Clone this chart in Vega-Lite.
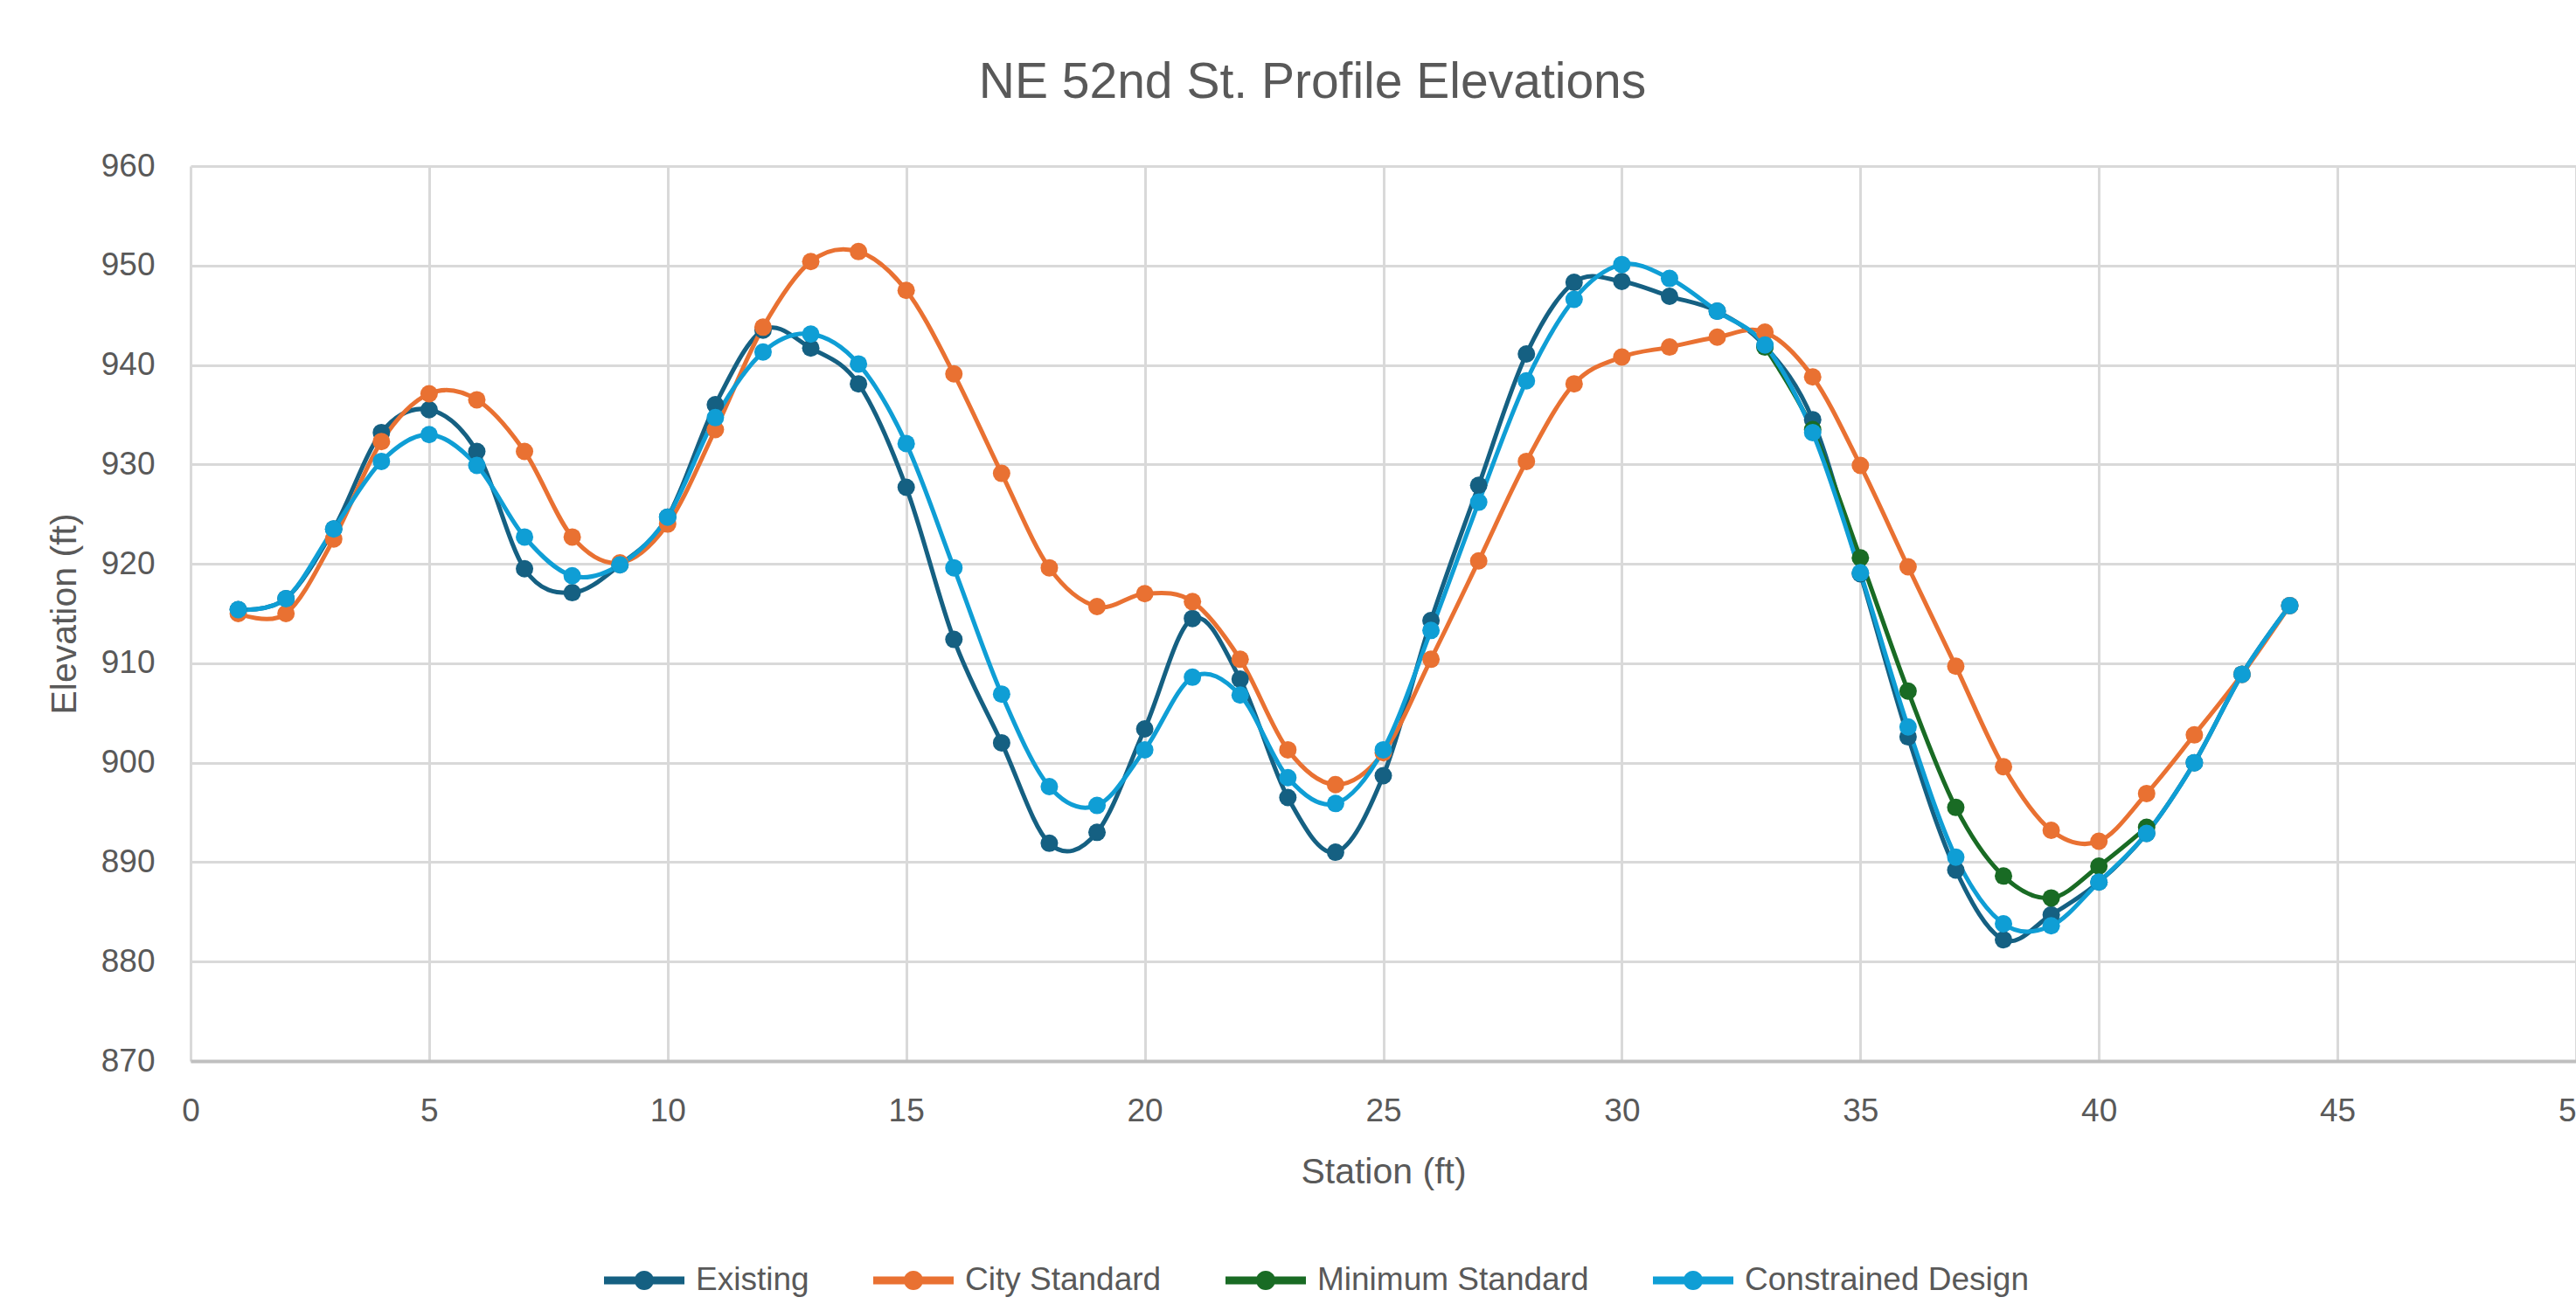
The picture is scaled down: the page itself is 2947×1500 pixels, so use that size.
{
  "$schema": "https://vega.github.io/schema/vega-lite/v6.json",
  "width": 2729,
  "height": 1024,
  "autosize": {"type": "none"},
  "padding": {"left": 218, "top": 190, "right": 0, "bottom": 286},
  "background": "white",
  "config": {
    "view": {"stroke": null},
    "font": "Liberation Sans"
  },
  "title": {
    "text": "NE 52nd St. Profile Elevations",
    "fontSize": 57,
    "font": "Liberation Sans",
    "fontWeight": "normal",
    "color": "#595959",
    "anchor": "middle",
    "frame": "group",
    "baseline": "alphabetic",
    "offset": 2,
    "dx": -81
  },
  "data": {
    "values": [
      {"Series": "Existing", "Station": 1, "Elevation": 915.4},
      {"Series": "Existing", "Station": 2, "Elevation": 916.5},
      {"Series": "Existing", "Station": 3, "Elevation": 923.5},
      {"Series": "Existing", "Station": 4, "Elevation": 933.2},
      {"Series": "Existing", "Station": 5, "Elevation": 935.5},
      {"Series": "Existing", "Station": 6, "Elevation": 931.3},
      {"Series": "Existing", "Station": 7, "Elevation": 919.5},
      {"Series": "Existing", "Station": 8, "Elevation": 917.1},
      {"Series": "Existing", "Station": 9, "Elevation": 919.9},
      {"Series": "Existing", "Station": 10, "Elevation": 924.7},
      {"Series": "Existing", "Station": 11, "Elevation": 936.0},
      {"Series": "Existing", "Station": 12, "Elevation": 943.5},
      {"Series": "Existing", "Station": 13, "Elevation": 941.7},
      {"Series": "Existing", "Station": 14, "Elevation": 938.1},
      {"Series": "Existing", "Station": 15, "Elevation": 927.7},
      {"Series": "Existing", "Station": 16, "Elevation": 912.4},
      {"Series": "Existing", "Station": 17, "Elevation": 902.0},
      {"Series": "Existing", "Station": 18, "Elevation": 891.9},
      {"Series": "Existing", "Station": 19, "Elevation": 893.0},
      {"Series": "Existing", "Station": 20, "Elevation": 903.4},
      {"Series": "Existing", "Station": 21, "Elevation": 914.5},
      {"Series": "Existing", "Station": 22, "Elevation": 908.4},
      {"Series": "Existing", "Station": 23, "Elevation": 896.5},
      {"Series": "Existing", "Station": 24, "Elevation": 891.0},
      {"Series": "Existing", "Station": 25, "Elevation": 898.7},
      {"Series": "Existing", "Station": 26, "Elevation": 914.3},
      {"Series": "Existing", "Station": 27, "Elevation": 927.9},
      {"Series": "Existing", "Station": 28, "Elevation": 941.1},
      {"Series": "Existing", "Station": 29, "Elevation": 948.3},
      {"Series": "Existing", "Station": 30, "Elevation": 948.4},
      {"Series": "Existing", "Station": 31, "Elevation": 946.9},
      {"Series": "Existing", "Station": 32, "Elevation": 945.4},
      {"Series": "Existing", "Station": 33, "Elevation": 941.9},
      {"Series": "Existing", "Station": 34, "Elevation": 934.5},
      {"Series": "Existing", "Station": 35, "Elevation": 919.0},
      {"Series": "Existing", "Station": 36, "Elevation": 902.6},
      {"Series": "Existing", "Station": 37, "Elevation": 889.2},
      {"Series": "Existing", "Station": 38, "Elevation": 882.2},
      {"Series": "Existing", "Station": 39, "Elevation": 884.7},
      {"Series": "Existing", "Station": 40, "Elevation": 888.0},
      {"Series": "Existing", "Station": 41, "Elevation": 892.9},
      {"Series": "Existing", "Station": 42, "Elevation": 900.0},
      {"Series": "Existing", "Station": 43, "Elevation": 908.9},
      {"Series": "Existing", "Station": 44, "Elevation": 915.8},
      {"Series": "City Standard", "Station": 1, "Elevation": 915.0},
      {"Series": "City Standard", "Station": 2, "Elevation": 915.0},
      {"Series": "City Standard", "Station": 3, "Elevation": 922.5},
      {"Series": "City Standard", "Station": 4, "Elevation": 932.3},
      {"Series": "City Standard", "Station": 5, "Elevation": 937.1},
      {"Series": "City Standard", "Station": 6, "Elevation": 936.5},
      {"Series": "City Standard", "Station": 7, "Elevation": 931.3},
      {"Series": "City Standard", "Station": 8, "Elevation": 922.7},
      {"Series": "City Standard", "Station": 9, "Elevation": 920.1},
      {"Series": "City Standard", "Station": 10, "Elevation": 924.0},
      {"Series": "City Standard", "Station": 11, "Elevation": 933.5},
      {"Series": "City Standard", "Station": 12, "Elevation": 943.8},
      {"Series": "City Standard", "Station": 13, "Elevation": 950.4},
      {"Series": "City Standard", "Station": 14, "Elevation": 951.4},
      {"Series": "City Standard", "Station": 15, "Elevation": 947.5},
      {"Series": "City Standard", "Station": 16, "Elevation": 939.1},
      {"Series": "City Standard", "Station": 17, "Elevation": 929.1},
      {"Series": "City Standard", "Station": 18, "Elevation": 919.6},
      {"Series": "City Standard", "Station": 19, "Elevation": 915.7},
      {"Series": "City Standard", "Station": 20, "Elevation": 917.0},
      {"Series": "City Standard", "Station": 21, "Elevation": 916.2},
      {"Series": "City Standard", "Station": 22, "Elevation": 910.4},
      {"Series": "City Standard", "Station": 23, "Elevation": 901.3},
      {"Series": "City Standard", "Station": 24, "Elevation": 897.8},
      {"Series": "City Standard", "Station": 25, "Elevation": 901.0},
      {"Series": "City Standard", "Station": 26, "Elevation": 910.4},
      {"Series": "City Standard", "Station": 27, "Elevation": 920.3},
      {"Series": "City Standard", "Station": 28, "Elevation": 930.3},
      {"Series": "City Standard", "Station": 29, "Elevation": 938.1},
      {"Series": "City Standard", "Station": 30, "Elevation": 940.8},
      {"Series": "City Standard", "Station": 31, "Elevation": 941.8},
      {"Series": "City Standard", "Station": 32, "Elevation": 942.8},
      {"Series": "City Standard", "Station": 33, "Elevation": 943.3},
      {"Series": "City Standard", "Station": 34, "Elevation": 938.8},
      {"Series": "City Standard", "Station": 35, "Elevation": 929.9},
      {"Series": "City Standard", "Station": 36, "Elevation": 919.7},
      {"Series": "City Standard", "Station": 37, "Elevation": 909.7},
      {"Series": "City Standard", "Station": 38, "Elevation": 899.6},
      {"Series": "City Standard", "Station": 39, "Elevation": 893.2},
      {"Series": "City Standard", "Station": 40, "Elevation": 892.1},
      {"Series": "City Standard", "Station": 41, "Elevation": 896.9},
      {"Series": "City Standard", "Station": 42, "Elevation": 902.8},
      {"Series": "City Standard", "Station": 43, "Elevation": 908.9},
      {"Series": "City Standard", "Station": 44, "Elevation": 915.8},
      {"Series": "Minimum Standard", "Station": 33, "Elevation": 941.8},
      {"Series": "Minimum Standard", "Station": 34, "Elevation": 933.5},
      {"Series": "Minimum Standard", "Station": 35, "Elevation": 920.6},
      {"Series": "Minimum Standard", "Station": 36, "Elevation": 907.2},
      {"Series": "Minimum Standard", "Station": 37, "Elevation": 895.5},
      {"Series": "Minimum Standard", "Station": 38, "Elevation": 888.6},
      {"Series": "Minimum Standard", "Station": 39, "Elevation": 886.4},
      {"Series": "Minimum Standard", "Station": 40, "Elevation": 889.6},
      {"Series": "Minimum Standard", "Station": 41, "Elevation": 893.5},
      {"Series": "Constrained Design", "Station": 1, "Elevation": 915.4},
      {"Series": "Constrained Design", "Station": 2, "Elevation": 916.5},
      {"Series": "Constrained Design", "Station": 3, "Elevation": 923.5},
      {"Series": "Constrained Design", "Station": 4, "Elevation": 930.3},
      {"Series": "Constrained Design", "Station": 5, "Elevation": 933.0},
      {"Series": "Constrained Design", "Station": 6, "Elevation": 929.9},
      {"Series": "Constrained Design", "Station": 7, "Elevation": 922.7},
      {"Series": "Constrained Design", "Station": 8, "Elevation": 918.8},
      {"Series": "Constrained Design", "Station": 9, "Elevation": 919.9},
      {"Series": "Constrained Design", "Station": 10, "Elevation": 924.7},
      {"Series": "Constrained Design", "Station": 11, "Elevation": 934.7},
      {"Series": "Constrained Design", "Station": 12, "Elevation": 941.3},
      {"Series": "Constrained Design", "Station": 13, "Elevation": 943.1},
      {"Series": "Constrained Design", "Station": 14, "Elevation": 940.1},
      {"Series": "Constrained Design", "Station": 15, "Elevation": 932.1},
      {"Series": "Constrained Design", "Station": 16, "Elevation": 919.6},
      {"Series": "Constrained Design", "Station": 17, "Elevation": 906.9},
      {"Series": "Constrained Design", "Station": 18, "Elevation": 897.6},
      {"Series": "Constrained Design", "Station": 19, "Elevation": 895.7},
      {"Series": "Constrained Design", "Station": 20, "Elevation": 901.3},
      {"Series": "Constrained Design", "Station": 21, "Elevation": 908.6},
      {"Series": "Constrained Design", "Station": 22, "Elevation": 906.8},
      {"Series": "Constrained Design", "Station": 23, "Elevation": 898.5},
      {"Series": "Constrained Design", "Station": 24, "Elevation": 895.9},
      {"Series": "Constrained Design", "Station": 25, "Elevation": 901.3},
      {"Series": "Constrained Design", "Station": 26, "Elevation": 913.3},
      {"Series": "Constrained Design", "Station": 27, "Elevation": 926.2},
      {"Series": "Constrained Design", "Station": 28, "Elevation": 938.4},
      {"Series": "Constrained Design", "Station": 29, "Elevation": 946.6},
      {"Series": "Constrained Design", "Station": 30, "Elevation": 950.1},
      {"Series": "Constrained Design", "Station": 31, "Elevation": 948.7},
      {"Series": "Constrained Design", "Station": 32, "Elevation": 945.4},
      {"Series": "Constrained Design", "Station": 33, "Elevation": 942.0},
      {"Series": "Constrained Design", "Station": 34, "Elevation": 933.2},
      {"Series": "Constrained Design", "Station": 35, "Elevation": 919.1},
      {"Series": "Constrained Design", "Station": 36, "Elevation": 903.6},
      {"Series": "Constrained Design", "Station": 37, "Elevation": 890.5},
      {"Series": "Constrained Design", "Station": 38, "Elevation": 883.8},
      {"Series": "Constrained Design", "Station": 39, "Elevation": 883.6},
      {"Series": "Constrained Design", "Station": 40, "Elevation": 888.0},
      {"Series": "Constrained Design", "Station": 41, "Elevation": 892.9},
      {"Series": "Constrained Design", "Station": 42, "Elevation": 900.0},
      {"Series": "Constrained Design", "Station": 43, "Elevation": 908.9},
      {"Series": "Constrained Design", "Station": 44, "Elevation": 915.8}
    ]
  },
  "mark": {
    "type": "line",
    "interpolate": "cardinal",
    "strokeWidth": 5,
    "point": {"filled": true, "size": 400, "shape": "circle", "opacity": 1}
  },
  "encoding": {
    "x": {
      "field": "Station",
      "type": "quantitative",
      "scale": {"domain": [0, 50], "nice": false, "zero": false},
      "axis": {
        "title": "Station (ft)",
        "values": [0, 5, 10, 15, 20, 25, 30, 35, 40, 45, 50],
        "ticks": false,
        "grid": true,
        "gridColor": "#D9D9D9",
        "gridWidth": 3,
        "domain": true,
        "domainColor": "#BFBFBF",
        "domainWidth": 4,
        "labelFont": "Liberation Sans",
        "labelFontSize": 37,
        "labelColor": "#595959",
        "labelBaseline": "alphabetic",
        "labelPadding": 68,
        "labelFlush": false,
        "labelOverlap": false,
        "titleFont": "Liberation Sans",
        "titleFontSize": 41,
        "titleFontWeight": "normal",
        "titleColor": "#595959",
        "titleBaseline": "alphabetic",
        "titleY": 139
      }
    },
    "y": {
      "field": "Elevation",
      "type": "quantitative",
      "scale": {"domain": [870, 960], "nice": false, "zero": false},
      "axis": {
        "title": "Elevation (ft)",
        "values": [870, 880, 890, 900, 910, 920, 930, 940, 950, 960],
        "ticks": false,
        "grid": true,
        "gridColor": "#D9D9D9",
        "gridWidth": 3,
        "domain": false,
        "labelFont": "Liberation Sans",
        "labelFontSize": 37,
        "labelColor": "#595959",
        "labelPadding": 41,
        "labelFlush": false,
        "labelOverlap": false,
        "titleFont": "Liberation Sans",
        "titleFontSize": 41,
        "titleFontWeight": "normal",
        "titleColor": "#595959",
        "titleBaseline": "alphabetic",
        "titleX": -132
      }
    },
    "color": {
      "field": "Series",
      "type": "nominal",
      "sort": ["Existing", "City Standard", "Minimum Standard", "Constrained Design"],
      "scale": {
        "domain": ["Existing", "City Standard", "Minimum Standard", "Constrained Design"],
        "range": ["#156082", "#E97132", "#196B24", "#0F9ED5"]
      },
      "legend": {
        "orient": "none",
        "legendX": 473,
        "legendY": 1229,
        "direction": "horizontal",
        "title": null,
        "labelFont": "Liberation Sans",
        "labelFontSize": 37,
        "labelColor": "#595959",
        "labelLimit": 0,
        "labelOffset": 13,
        "columnPadding": 73,
        "symbolType": "M -1 -0.1 L 1 -0.1 L 1 0.1 L -1 0.1 Z M -0.24 0 A 0.24 0.24 0 1 1 0.24 0 A 0.24 0.24 0 1 1 -0.24 0 Z",
        "symbolSize": 8464,
        "symbolStrokeWidth": 0,
        "symbolOpacity": 1,
        "encode": {
          "symbols": {
            "update": {
              "fill": {"scale": "color", "field": "value"},
              "opacity": {"value": 1}
            }
          }
        }
      }
    }
  }
}
